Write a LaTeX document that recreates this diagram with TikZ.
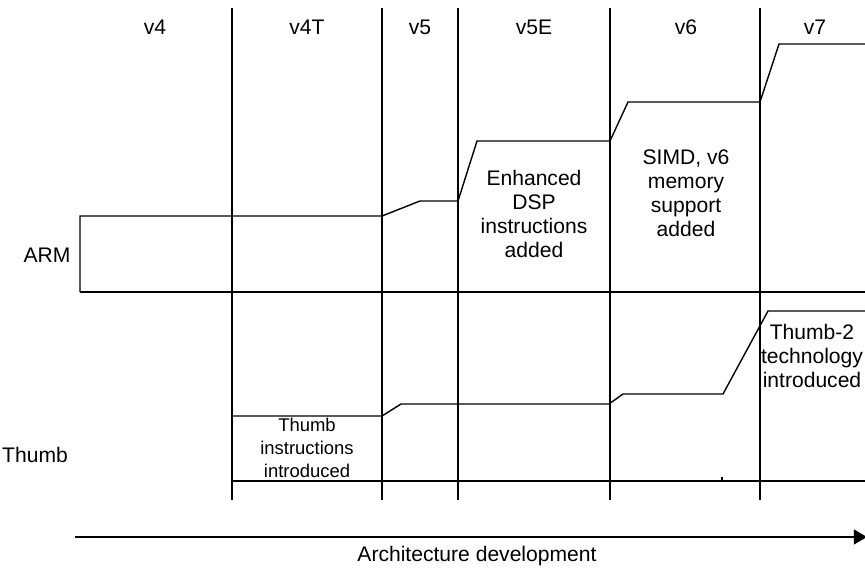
\documentclass[tikz,border=0pt]{standalone}
\usepackage{fontspec}
\setmainfont{Liberation Sans}
\usetikzlibrary{arrows.meta}

\begin{document}
\begin{tikzpicture}[x=0.02cm, y=-0.02cm, line width=0.8pt,
    txt/.style={font=\fontsize{12}{13.6}\selectfont, align=center, inner sep=0pt},
    smalltxt/.style={font=\fontsize{10.5}{13}\selectfont, align=center, inner sep=0pt}]

    \useasboundingbox (0,0) rectangle (865,568);

    % Column dividers
    \foreach \x in {232, 382, 458, 610, 760} {
        \draw (\x, 8) -- (\x, 500);
    }

    % Column headings
    \foreach \x/\v in {155/v4, 307/v4T, 420/v5, 534/v5E, 686/v6, 815/v7} {
        \node[txt] (col-\v) at (\x, 27) {\v};
    }

    % ARM instruction set, growing step by step
    \draw (80,292) -- (80,216) -- (382,216) -- (420,201) -- (458,201) -- (477,141)
        -- (610,141) -- (628,102) -- (760,102) -- (779,44) -- (866,44);
    \draw (80,292) -- (866,292);

    % Thumb instruction set
    \draw (232,416) -- (382,416) -- (401,404) -- (609,404) -- (623,394) -- (723,394)
        -- (768,311) -- (866,311);
    \draw (232,481) -- (866,481);
    \draw (722,477) -- (722,481);

    % Row labels
    \node[txt] (arm) at (47,255) {ARM};
    \node[txt] (thumb) at (35,455) {Thumb};

    % Notes in the cells
    \node[txt] (dsp) at (534,214) {Enhanced\\DSP\\instructions\\added};
    \node[txt] (simd) at (686,193) {SIMD, v6\\memory\\support\\added};
    \node[txt] (thumb2) at (812,356) {Thumb-2\\technology\\introduced};
    \node[smalltxt] (thumbintro) at (307,448) {Thumb\\instructions\\introduced};

    % Time axis
    \coordinate (dev-start) at (75,537);
    \coordinate (dev-end) at (867,537);
    \draw[-{Triangle[length=7.5pt,width=8.5pt]}] (dev-start) -- (dev-end);
    \node[txt] (devlabel) at (477,556) {Architecture development};

\end{tikzpicture}
\end{document}
